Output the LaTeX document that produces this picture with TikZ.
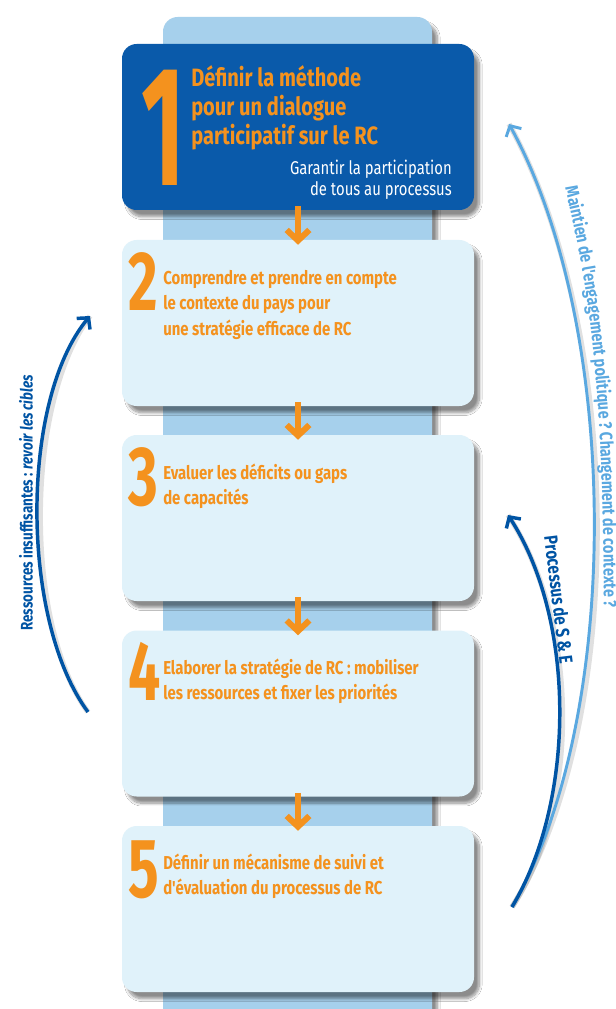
\documentclass[tikz,border=0pt]{standalone}
\usepackage{fontspec}
\setmainfont{Fira Sans}
\newfontfamily\dinfont[FakeStretch=0.8]{Fira Sans}
\newfontfamily\numfont[FakeStretch=0.68]{Fira Sans}
\newfontfamily\onefont[FakeStretch=0.55]{Fira Sans}
\usetikzlibrary{arrows.meta,shadows.blur,decorations.text}

\definecolor{rcdark}{HTML}{0A5AAA}
\definecolor{rclight}{HTML}{E0F2FA}
\definecolor{rcspine}{HTML}{A6D0EC}
\definecolor{rcorange}{HTML}{F4921E}
\definecolor{arcdark}{HTML}{0054A4}
\definecolor{arclight}{HTML}{5AA8E0}

\tikzset{
  boxshade/.style={blur shadow={shadow xshift=4pt, shadow yshift=-5pt, shadow blur steps=10, shadow opacity=45}},
  stepbox/.style={boxshade, rounded corners=11pt, minimum width=264pt, minimum height=124.5pt, inner sep=0pt},
  bignum/.style={text=rcorange, inner sep=0pt, anchor=base west, font=\numfont\bfseries\fontsize{63}{63}\selectfont},
  steptext/.style={text=rcorange, inner sep=0pt, anchor=base west, align=left, font=\dinfont\bfseries\fontsize{14}{19.1}\selectfont},
  downarrow/.style={draw=rcorange, line width=4.5pt, -{Straight Barb[length=8pt,width=17pt]}},
  backarc/.style={line width=2.6pt, -{Straight Barb[length=6pt,width=13pt]}},
  arcshade/.style={draw=black, opacity=.12, line width=4pt},
  arctext/.style={inner sep=0pt, font=\dinfont\bfseries\fontsize{12.6}{14}\selectfont},
}

\begin{document}
\begin{tikzpicture}[x=0.75pt,y=-0.75pt]
  \useasboundingbox (0,0) rectangle (616,1009);
  \fill[white] (0,0) rectangle (616,1009);

  % column behind the steps
  \fill[rcspine, rounded corners=11pt, boxshade] (163,17) rectangle (432,1030);

  % the five steps
  \node[stepbox, fill=rcdark]  (b1) at (298,127)   {};
  \node[stepbox, fill=rclight] (b2) at (298,323)   {};
  \node[stepbox, fill=rclight] (b3) at (298,518)   {};
  \node[stepbox, fill=rclight] (b4) at (298,713.5) {};
  \node[stepbox, fill=rclight] (b5) at (298,909)   {};

  \node[bignum, font=\onefont\bfseries\fontsize{128}{128}\selectfont] (n1) at (141,186) {1};
  \node[steptext, font=\dinfont\bfseries\fontsize{18.8}{21.75}\selectfont] (t1) at (191,145)
    {Définir la méthode\\pour un dialogue\\participatif sur le RC};
  \node[inner sep=0pt, anchor=base east, align=right, text=white,
        font=\dinfont\fontsize{13.9}{16.5}\selectfont] (sub1) at (452,196)
    {Garantir la participation\\de tous au processus};

  \node[bignum] (n2) at (128,310) {2};
  \node[steptext] (t2) at (163,335)
    {Comprendre et prendre en compte\\le contexte du pays pour\\une stratégie efficace de RC};

  \node[bignum] (n3) at (128,505) {3};
  \node[steptext] (t3) at (163,504.5) {Evaluer les déficits ou gaps\\de capacités};

  \node[bignum] (n4) at (128,700) {4};
  \node[steptext] (t4) at (163,699.5)
    {Elaborer la stratégie de RC : mobiliser\\les ressources et fixer les priorités};

  \node[bignum] (n5) at (128,897) {5};
  \node[steptext] (t5) at (163,894.5)
    {Définir un mécanisme de suivi et\\d'évaluation du processus de RC};

  % arrows from one step to the next
  \draw[downarrow] ([yshift=3pt]b1.south) -- ([yshift=-3.75pt]b2.north);
  \draw[downarrow] ([yshift=3pt]b2.south) -- ([yshift=-3.75pt]b3.north);
  \draw[downarrow] ([yshift=3pt]b3.south) -- ([yshift=-3.75pt]b4.north);
  \draw[downarrow] ([yshift=3pt]b4.south) -- ([yshift=-3.75pt]b5.north);

  % feedback arcs
  \coordinate (lo) at (88,712);
  \coordinate (hi) at (90,316);
  \coordinate (base) at (512,907);
  \coordinate (top1) at (509,124);
  \coordinate (top5) at (508,515);

  \begin{scope}[shift={(4,5)}]
    \draw[arcshade] (lo) .. controls (20,620) and (20,400) .. (hi);
    \draw[arcshade] (base) .. controls (622,720) and (622,330) .. (top1);
    \draw[arcshade] (base) .. controls (576,800) and (576,620) .. (top5);
  \end{scope}

  \draw[backarc, arcdark] (lo) .. controls (20,620) and (20,400) .. (hi);
  \draw[backarc, arclight, line width=2.2pt] (base) .. controls (622,720) and (622,330) .. (top1);
  \draw[backarc, arcdark] (base) .. controls (576,800) and (576,620) .. (top5);

  \node[arctext, text=arcdark, rotate=90] (leftlabel) at (26,503)
    {Ressources insuffisantes : \textit{revoir les cibles}};
  \path[decorate, decoration={text along path, text align=left,
      text={|\dinfont\bfseries\fontsize{13.5}{14}\selectfont\color{arclight}|Maintien de l'engagement politique ? Changement de contexte ?}}]
    (565,188) .. controls (590,290) and (604,390) .. (604,625);
  \node[arctext, text=arcdark, rotate=-83, font=\dinfont\bfseries\fontsize{14.2}{16}\selectfont] (selabel) at (559,600)
    {Processus de S \& E};
\end{tikzpicture}
\end{document}
